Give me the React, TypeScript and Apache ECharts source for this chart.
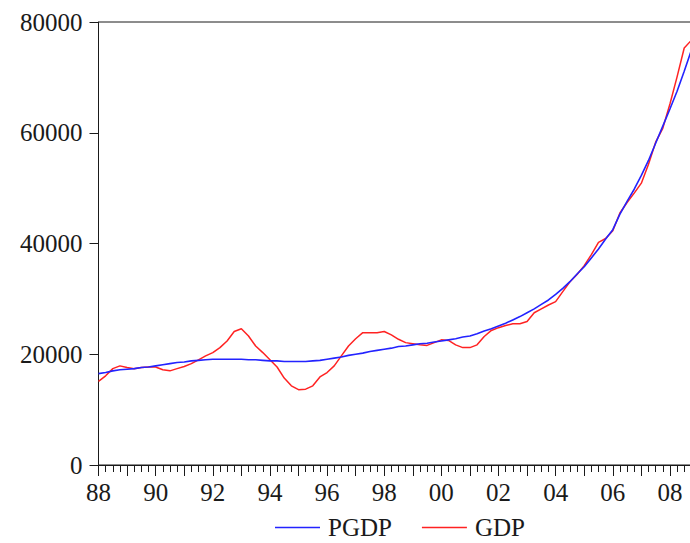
import React, { useEffect, useRef } from "react";
import * as echarts from "echarts";

// Quarterly series, 1988Q1 .. 2008Q4
const startYear = 1988;
const gdp = [
  15100, 16100, 17400, 17900, 17600, 17400, 17600, 17700,
  17700, 17200, 17000, 17400, 17800, 18300, 19000, 19700,
  20300, 21200, 22400, 24100, 24600, 23300, 21500, 20300,
  19000, 17700, 15700, 14300, 13600, 13700, 14300, 15900,
  16700, 17900, 19700, 21500, 22800, 23900, 23900, 23900,
  24100, 23500, 22700, 22100, 21900, 21700, 21600, 22100,
  22600, 22500, 21700, 21200, 21200, 21700, 23200, 24300,
  24800, 25200, 25500, 25500, 25900, 27500, 28200, 28900,
  29500, 31300, 33100, 34400, 36000, 38000, 40200, 40900,
  42300, 45500, 47400, 49100, 50900, 54300, 58300, 60800,
  65200, 70100, 75300, 76700,
];
const pgdp = [
  16500, 16700, 17000, 17200, 17300, 17400, 17600, 17700,
  17900, 18100, 18300, 18500, 18600, 18800, 18900, 19000,
  19100, 19100, 19100, 19100, 19100, 19000, 19000, 18900,
  18800, 18800, 18700, 18700, 18700, 18700, 18800, 18900,
  19100, 19300, 19500, 19800, 20000, 20200, 20500, 20700,
  20900, 21100, 21400, 21500, 21700, 21900, 22000, 22200,
  22400, 22600, 22800, 23100, 23300, 23700, 24200, 24600,
  25100, 25600, 26200, 26800, 27500, 28200, 29000, 29800,
  30800, 31900, 33100, 34500, 35800, 37400, 39000, 40800,
  42500, 45300, 47600, 49800, 52300, 55000, 58100, 61200,
  64300, 67500, 71100, 74900,
];
const yearLabels = ["88", "90", "92", "94", "96", "98", "00", "02", "04", "06", "08"];
const yTicks = [0, 20000, 40000, 60000, 80000];

const FONT = "'Liberation Serif', 'Times New Roman', serif";
const INK = "#1a1a1a";

export default function App() {
  const ref = useRef<HTMLDivElement>(null);

  useEffect(() => {
    if (!ref.current) return;
    const chart = echarts.init(ref.current, undefined, { renderer: "svg" });
    const toPairs = (arr: number[]) => arr.map((v, i) => [i, v]);
    chart.setOption({
      animation: false,
      backgroundColor: "#ffffff",
      grid: {
        left: 98.5,
        top: 22,
        width: 600,
        height: 443,
        show: true,
        borderColor: INK,
        borderWidth: 1,
        backgroundColor: "transparent",
      },
      legend: {
        left: 275,
        top: 515,
        padding: 0,
        itemWidth: 45,
        itemHeight: 1.6,
        itemGap: 30,
        icon: "rect",
        textStyle: { fontFamily: FONT, fontSize: 25, color: INK, padding: [0, 0, 0, 3] },
        data: ["PGDP", "GDP"],
      },
      xAxis: {
        type: "value",
        min: 0,
        max: 84,
        interval: 4,
        axisLine: { show: true, lineStyle: { color: INK, width: 1 } },
        axisTick: { show: true, length: 11, lineStyle: { color: INK } },
        minorTick: { show: true, splitNumber: 4, length: 7, lineStyle: { color: INK } },
        splitLine: { show: false },
        axisLabel: {
          fontFamily: FONT,
          fontSize: 25,
          color: INK,
          margin: 15,
          showMaxLabel: false,
          formatter: (v: number) => {
            if (v % 8 !== 0) return "";
            const idx = v / 8;
            return yearLabels[idx] ?? "";
          },
        },
      },
      yAxis: {
        type: "value",
        min: yTicks[0],
        max: yTicks[yTicks.length - 1],
        interval: yTicks[1] - yTicks[0],
        axisLine: { show: true, lineStyle: { color: INK, width: 1 } },
        axisTick: { show: true, length: 9, lineStyle: { color: INK } },
        splitLine: { show: false },
        axisLabel: {
          fontFamily: FONT,
          fontSize: 25,
          color: INK,
          margin: 16,
          formatter: (v: number) => String(v),
        },
      },
      series: [
        {
          name: "PGDP",
          type: "line",
          data: toPairs(pgdp),
          showSymbol: false,
          symbol: "none",
          smooth: false,
          color: "#2323ff",
          lineStyle: { color: "#2323ff", width: 1.6 },
          z: 3,
        },
        {
          name: "GDP",
          type: "line",
          data: toPairs(gdp),
          showSymbol: false,
          symbol: "none",
          smooth: false,
          color: "#ff2222",
          lineStyle: { color: "#ff2222", width: 1.5 },
          z: 2,
        },
      ],
    });
    return () => chart.dispose();
  }, []);

  // The plot runs slightly past the right edge of the visible frame.
  return (
    <div
      style={{ position: "absolute", left: 0, top: 0, width: 690, height: 543, overflow: "hidden", background: "#fff" }}
      data-start-year={startYear}
    >
      <div ref={ref} style={{ width: 720, height: 543 }} />
    </div>
  );
}
